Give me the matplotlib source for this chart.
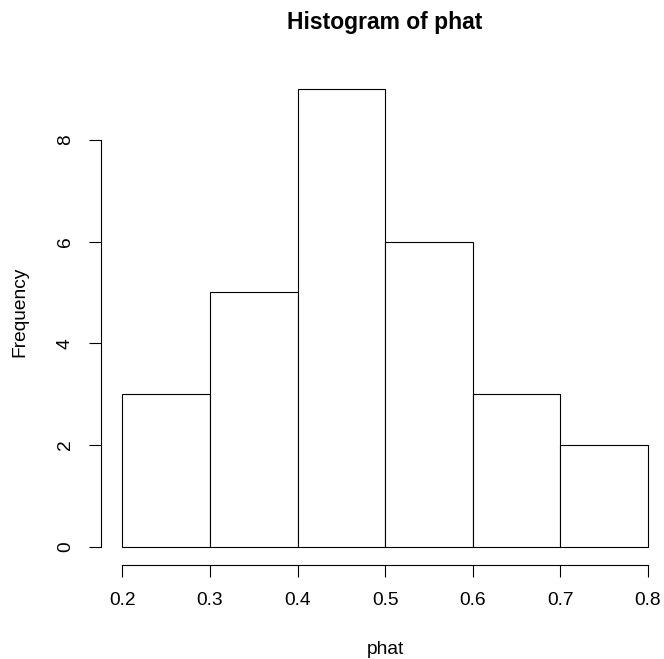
import numpy as np
import matplotlib
matplotlib.use("Agg")
import matplotlib.pyplot as plt

# histogram of phat: bin edges and counts
bin_edges = [0.2, 0.3, 0.4, 0.5, 0.6, 0.7, 0.8]
counts = [3, 5, 9, 6, 3, 2]
x_ticks = [0.2, 0.3, 0.4, 0.5, 0.6, 0.7, 0.8]
y_ticks = [0, 2, 4, 6, 8]

plt.rcParams['font.family'] = ['Liberation Sans', 'DejaVu Sans']

fig = plt.figure(figsize=(6.64, 6.59), dpi=100)
ax = fig.add_axes([101 / 664, 94 / 659, 563 / 664, 494.3 / 659])

edges = np.array(bin_edges)
ax.bar(edges[:-1], counts, width=np.diff(edges), align='edge',
       facecolor='white', edgecolor='black', linewidth=0.8)

ax.set_xlim(0.1757, 0.8183)
ax.set_ylim(-0.36, 9.36)

for s in ['top', 'right']:
    ax.spines[s].set_visible(False)
ax.spines['bottom'].set_bounds(bin_edges[0], bin_edges[-1])
ax.spines['left'].set_bounds(y_ticks[0], y_ticks[-1])
for s in ['bottom', 'left']:
    ax.spines[s].set_linewidth(0.8)

ax.set_xticks(x_ticks)
ax.set_xticklabels([f"{v:.1f}" for v in x_ticks])
ax.set_yticks(y_ticks)
ax.set_yticklabels([str(v) for v in y_ticks], rotation=90, va='center')
ax.tick_params(axis='both', length=8.5, width=0.8, labelsize=13.8, pad=11)

fig.text(385 / 664, 1 - 650 / 659, "phat", ha='center', va='center', fontsize=13.8)
fig.text(20 / 664, 1 - 312 / 659, "Frequency", ha='center', va='center',
         rotation=90, fontsize=13.8)
fig.text(385 / 664, 1 - 23 / 659, "Histogram of phat", ha='center', va='center',
         fontsize=16.5, fontweight='bold')

fig.savefig("out.png", dpi=100)
